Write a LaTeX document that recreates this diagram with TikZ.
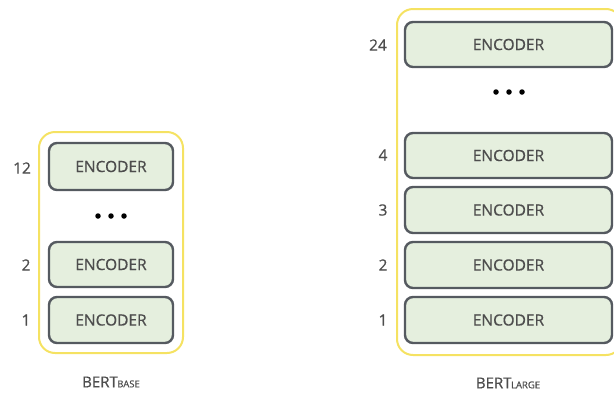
\documentclass[tikz,border=0pt]{standalone}
\usepackage{fontspec}
\setmainfont{Open Sans}[FakeBold=0.6,AutoFakeBold=0.6]
\definecolor{txt}{HTML}{4D4D4D}
\definecolor{encfill}{HTML}{E5EFDE}
\definecolor{encdraw}{HTML}{555A60}
\definecolor{ylw}{HTML}{F5E262}
\begin{document}
\begin{tikzpicture}[x=1pt,y=-1pt,
  enc/.style={draw=encdraw,line width=2.4pt,fill=encfill,rounded corners=8pt,text=txt,font=\fontsize{15.5}{17}\selectfont\bfseries},
  outer/.style={draw=ylw,line width=2pt,rounded corners=16pt},
  num/.style={text=txt,font=\fontsize{15.5}{17}\selectfont\bfseries},
  captxt/.style={text=txt,font=\fontsize{15}{17}\selectfont\bfseries},
  dot/.style={circle,fill=black,inner sep=0pt,minimum size=5.5pt}]
\useasboundingbox (0,0) rectangle (614,397);
\clip (0,0) rectangle (614,397);
% left
\draw[outer] (39,132) rectangle (183,353);
\draw[enc] (49,143) rectangle (173,190) node[midway] (b12) {ENCODER};
\draw[enc] (49,242) rectangle (173,287) node[midway] (b2) {ENCODER};
\draw[enc] (49,297) rectangle (173,343) node[midway] (b1) {ENCODER};
\node[dot] (bd1) at (98,216) {};
\node[dot] (bd2) at (111,216) {};
\node[dot] (bd3) at (124,216) {};
\node[num] (n12) at (22,168) {12};
\node[num] (n2) at (26,265) {2};
\node[num] (n1) at (26,320) {1};
\node[captxt] (base) at (111,382) {BERT\kern-0.5pt{\fontsize{9.5}{10}\selectfont BASE}};
% right
\draw[outer] (397,9) rectangle (622,355);
\draw[enc] (405,22) rectangle (612,67) node[midway] (l24) {ENCODER};
\draw[enc] (405,133) rectangle (612,178) node[midway] (l4) {ENCODER};
\draw[enc] (405,187) rectangle (612,233) node[midway] (l3) {ENCODER};
\draw[enc] (405,242) rectangle (612,288) node[midway] (l2) {ENCODER};
\draw[enc] (405,297) rectangle (612,343) node[midway] (l1) {ENCODER};
\node[dot] (ld1) at (496,92) {};
\node[dot] (ld2) at (509,92) {};
\node[dot] (ld3) at (522,92) {};
\node[num] (m24) at (378,45) {24};
\node[num] (m4) at (383,155) {4};
\node[num] (m3) at (383,210) {3};
\node[num] (m2) at (383,265) {2};
\node[num] (m1) at (383,320) {1};
\node[captxt] (large) at (508,383) {BERT\kern-0.5pt{\fontsize{9.5}{10}\selectfont LARGE}};
\end{tikzpicture}
\end{document}
